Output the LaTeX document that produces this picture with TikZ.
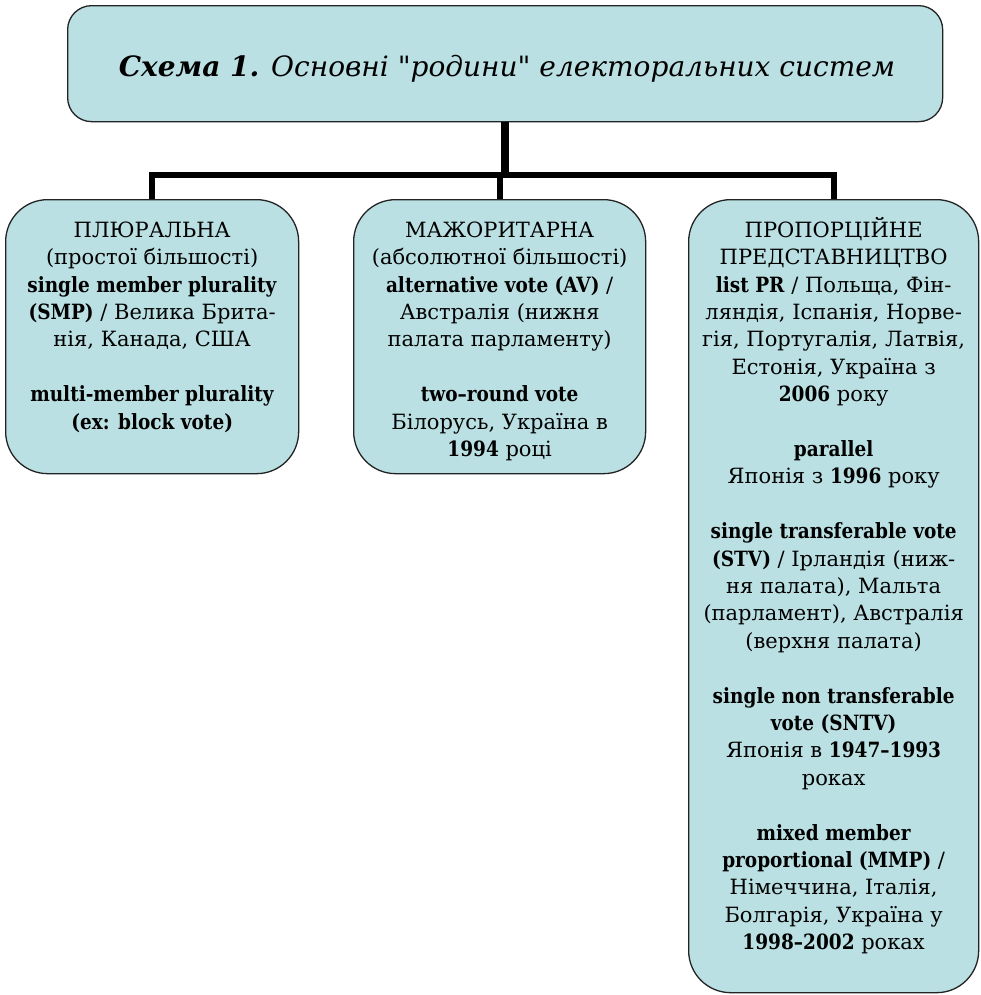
\documentclass[tikz,border=0pt]{standalone}
\usepackage{fontspec}
\setmainfont{DejaVu Serif}[BoldFeatures={FakeStretch=0.88}]
\newfontfamily\titlefont{DejaVu Serif}
\definecolor{boxfill}{RGB}{186,224,227}
\definecolor{boxline}{RGB}{35,35,35}
\newcommand{\firstln}{\rule{0pt}{20bp}}
\begin{document}
\begin{tikzpicture}[x=1bp,y=-1bp,
  famblock/.style={draw=boxline, line width=1.3bp, fill=boxfill, inner sep=0pt, anchor=north west, rounded corners=42bp},
  bodytext/.style={align=center, inner sep=0pt, anchor=north, text=black, font=\fontsize{21bp}{27.4bp}\selectfont},
  conn/.style={line width=6bp, line join=miter, draw=black},
  topconn/.style={line width=8bp, draw=black}]
\useasboundingbox (0,0) rectangle (981,995);

% top box
\node[famblock, rounded corners=24bp, minimum width=875bp, minimum height=116bp] (top) at (67,5) {};
\node[inner sep=0pt, anchor=base, font=\titlefont\fontsize{28bp}{30bp}\selectfont] (title) at (507,76)
  {\textbf{\textit{Схема 1.}} \textit{Основні "родини" електоральних систем}};

% family boxes
\node[famblock, minimum width=293bp, minimum height=274bp] (b1) at (5,199) {};
\node[famblock, minimum width=292bp, minimum height=274bp] (b2) at (353,199) {};
\node[famblock, minimum width=290bp, minimum height=793bp] (b3) at (688,199) {};

\coordinate (bus) at (0,175);

% connectors
\draw[topconn] (top.south) -- (top.south |- bus);
\draw[conn] (b1.north) -- (b1.north |- bus) -- (b3.north |- bus) -- (b3.north);
\draw[conn] (b2.north |- bus) -- (b2.north);

% texts
\node[bodytext] (t1) at (b1.north |- 0,217) {%
\firstln ПЛЮРАЛЬНА\\
(простої більшості)\\
\textbf{single member plurality}\\
\textbf{(SMP)} / Велика Брита-\\
нія, Канада, США\\[27.4bp]
\textbf{multi-member plurality}\\
\textbf{(ex: block vote)}};

\node[bodytext] (t2) at (b2.north |- 0,217) {%
\firstln МАЖОРИТАРНА\\
(абсолютної більшості)\\
\textbf{alternative vote (AV)} /\\
Австралія (нижня\\
палата парламенту)\\[27.4bp]
\textbf{two–round vote}\\
Білорусь, Україна в\\
\textbf{1994} році};

\node[bodytext] (t3) at (b3.north |- 0,217) {%
\firstln ПРОПОРЦІЙНЕ\\
ПРЕДСТАВНИЦТВО\\
\textbf{list PR} / Польща, Фін-\\
ляндія, Іспанія, Норве-\\
гія, Португалія, Латвія,\\
Естонія, Україна з\\
\textbf{2006} року\\[27.4bp]
\textbf{parallel}\\
Японія з \textbf{1996} року\\[27.4bp]
\textbf{single transferable vote}\\
\textbf{(STV)} / Ірландія (ниж-\\
ня палата), Мальта\\
(парламент), Австралія\\
(верхня палата)\\[27.4bp]
\textbf{single non transferable}\\
\textbf{vote (SNTV)}\\
Японія в \textbf{1947–1993}\\
роках\\[27.4bp]
\textbf{mixed member}\\
\textbf{proportional (MMP)} /\\
Німеччина, Італія,\\
Болгарія, Україна у\\
\textbf{1998–2002} роках};
\end{tikzpicture}
\end{document}
